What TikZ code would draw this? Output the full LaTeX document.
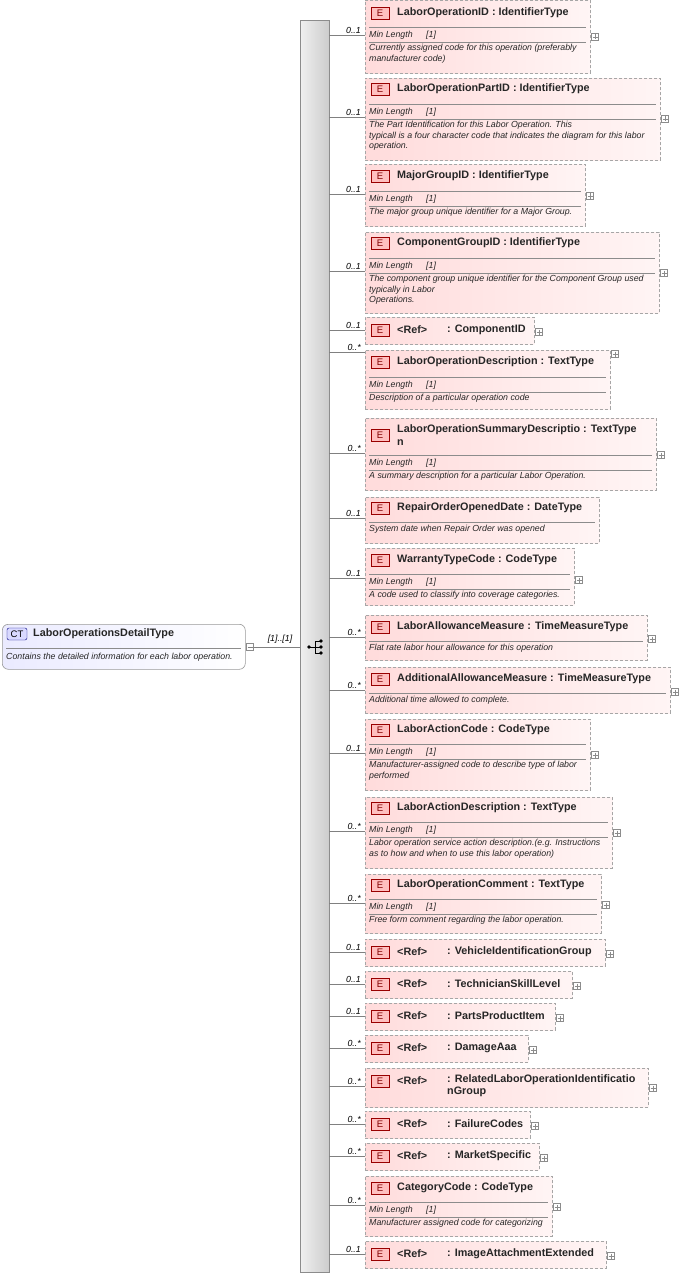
\documentclass[tikz,border=0pt]{standalone}
\usepackage{fontspec}
\setmainfont{Liberation Sans}
\begin{document}
\begin{tikzpicture}[x=1pt,y=-1pt,
 ebox/.style={draw=black!35,dashed,dash pattern=on 3pt off 2pt,left color=red!14,right color=red!4,anchor=north west,inner sep=0,line width=0.7pt},
 badge/.style={draw=red!60!black,fill=red!25,minimum width=18pt,minimum height=12pt,inner sep=0,font=\fontsize{9.5}{10}\selectfont,text=red!50!black},
 ttl/.style={anchor=west,inner sep=0,font=\bfseries\fontsize{10.8}{12.5}\selectfont,text=black!85,align=left},
 sm/.style={anchor=west,inner sep=0,font=\itshape\fontsize{8.8}{10}\selectfont,text=black!85},
 dsc/.style={anchor=north west,inner sep=0,font=\itshape\fontsize{8.8}{10.6}\selectfont,text=black!85,align=left},
 mul/.style={anchor=east,inner sep=0,font=\itshape\fontsize{8.8}{9}\selectfont},
 plus/.style={draw=black!45,fill=white,minimum size=7pt,inner sep=0},
 conn/.style={draw=black!50,line width=0.6pt},
 sepl/.style={draw=black!45,line width=0.5pt}]
\useasboundingbox (0,0) rectangle (679,1276);
% sequence bar
\node[draw=black!45,left color=black!6,right color=black!20,minimum width=29pt,minimum height=1252pt,anchor=north west,inner sep=0] (bar) at (300,20) {};
% sequence symbol
\node[inner sep=0] (seq) at (316,647) {};
\fill (309,647) circle (1.8);
\draw[line width=0.7pt] (309,647)--(315,647) (315,641)--(315,653) (315,641)--(321,641) (315,647)--(321,647) (315,653)--(321,653);
\fill (321,641) circle (1.8) (321,647) circle (1.8) (321,653) circle (1.8);
% CT box
\node[draw=black!40,rounded corners=6pt,left color=blue!8,right color=white,minimum width=243pt,minimum height=45pt,anchor=north west,inner sep=0,line width=0.6pt] (ct) at (2,624) {};
\node[draw=blue!50!black,fill=blue!15,rounded corners=2pt,minimum width=20pt,minimum height=12pt,inner sep=0,font=\fontsize{9.5}{10}\selectfont] (ctb) at (17,634) {CT};
\node[ttl] (ctt) at (33,634) {LaborOperationsDetailType};
\draw[sepl] (6,648)--(241,648);
\node[sm] (ctd) at (6,657) {Contains the detailed information for each labor operation.};
\node[plus] (minus) at (250,647) {};
\draw[black!50] (247.5,647)--(252.5,647);
\draw[conn] (minus.east)--(bar.west|-minus.east);
\node[mul,anchor=south] (ctm) at (280,644) {[1]..[1]};
% element macro
\newcommand\elem[7]{%
 \node[ebox,minimum width=#3pt-365pt,minimum height=#4pt-#2pt] (b#1) at (365,#2) {};
 \coordinate (c#1) at (329,#5);
 \draw[conn] (c#1)--(365,#5);
 \node[mul,anchor=south east] (m#1) at (361,#5-1) {#6};
 \ifnum#7=1 \node[plus] (p#1) at (#3+5,#5+2) {}; \draw[black!45] (#3+2.5,#5+2)--(#3+7.5,#5+2) (#3+5,#5-0.5)--(#3+5,#5+4.5);\fi}
\newcommand\etitle[3]{\node[badge] (e#1) at (380,#2) {E}; \node[ttl] (t#1) at (397,#2) {#3};}
\newcommand\rtitle[3]{\node[badge] (e#1) at (380,#2) {E}; \node[ttl] (r#1) at (397,#2) {<Ref>}; \node[ttl] (t#1) at (447,#2) {: #3};}
\newcommand\minl[3]{\draw[sepl] (369,#2-8)--(#3-4,#2-8); \node[sm] (ml#1) at (369,#2) {Min Length}; \node[sm] (mv#1) at (426,#2) {[1]}; \draw[sepl] (369,#2+7)--(#3-4,#2+7);}
\newcommand\desc[3]{\node[dsc] (d#1) at (369,#2) {#3};}
\elem{1}{0}{590}{73}{35}{0..1}{1}\etitle{1}{13}{LaborOperationID : IdentifierType}\minl{1}{35}{590}\desc{1}{44}{Currently assigned code for this operation (preferably\\manufacturer code)}
\elem{2}{78}{660}{160}{117}{0..1}{1}\etitle{2}{89}{LaborOperationPartID : IdentifierType}\minl{2}{112}{660}\desc{2}{121}{The Part Identification for this Labor Operation. This\\typicall is a four character code that indicates the diagram for this labor\\operation.}
\elem{3}{164}{585}{226}{194}{0..1}{1}\etitle{3}{176}{MajorGroupID : IdentifierType}\minl{3}{199}{585}\desc{3}{208}{The major group unique identifier for a Major Group.}
\elem{4}{232}{659}{313}{271}{0..1}{1}\etitle{4}{243}{ComponentGroupID : IdentifierType}\minl{4}{266}{659}\desc{4}{275}{The component group unique identifier for the Component Group used\\typically in Labor\\Operations.}
\elem{5}{317}{534}{344}{330}{0..1}{1}\rtitle{5}{330}{ComponentID}
\elem{6}{350}{610}{409}{352}{0..*}{1}\etitle{6}{362}{LaborOperationDescription : TextType}\minl{6}{385}{610}\desc{6}{394}{Description of a particular operation code}
\elem{7}{418}{656}{490}{453}{0..*}{1}\etitle{7}{435}{LaborOperationSummaryDescriptio : TextType\\n}\minl{7}{463}{656}\desc{7}{472}{A summary description for a particular Labor Operation.}
\elem{8}{497}{599}{543}{518}{0..1}{0}\etitle{8}{508}{RepairOrderOpenedDate : DateType}\draw[sepl] (369,522)--(595,522);\desc{8}{525}{System date when Repair Order was opened}
\elem{9}{548}{574}{605}{578}{0..1}{1}\etitle{9}{560}{WarrantyTypeCode : CodeType}\minl{9}{582}{574}\desc{9}{591}{A code used to classify into coverage categories.}
\elem{10}{615}{647}{660}{637}{0..*}{1}\etitle{10}{627}{LaborAllowanceMeasure : TimeMeasureType}\draw[sepl] (369,641)--(643,641);\desc{10}{644}{Flat rate labor hour allowance for this operation}
\elem{11}{667}{670}{713}{690}{0..*}{1}\etitle{11}{679}{AdditionalAllowanceMeasure : TimeMeasureType}\draw[sepl] (369,693)--(666,693);\desc{11}{696}{Additional time allowed to complete.}
\elem{12}{719}{590}{790}{753}{0..1}{1}\etitle{12}{730}{LaborActionCode : CodeType}\minl{12}{752}{590}\desc{12}{761}{Manufacturer-assigned code to describe type of labor\\performed}
\elem{13}{797}{612}{868}{831}{0..*}{1}\etitle{13}{808}{LaborActionDescription : TextType}\minl{13}{830}{612}\desc{13}{839}{Labor operation service action description.(e.g. Instructions\\as to how and when to use this labor operation)}
\elem{14}{874}{601}{933}{903}{0..*}{1}\etitle{14}{885}{LaborOperationComment : TextType}\minl{14}{907}{601}\desc{14}{916}{Free form comment regarding the labor operation.}
\elem{15}{939}{605}{966}{952}{0..1}{1}\rtitle{15}{952}{VehicleIdentificationGroup}
\elem{16}{971}{572}{998}{984}{0..1}{1}\rtitle{16}{984}{TechnicianSkillLevel}
\elem{17}{1003}{555}{1030}{1016}{0..1}{1}\rtitle{17}{1016}{PartsProductItem}
\elem{18}{1035}{528}{1062}{1048}{0..*}{1}\rtitle{18}{1048}{DamageAaa}
\elem{19}{1068}{648}{1107}{1086}{0..*}{1}\node[badge] (e19) at (380,1081) {E}; \node[ttl] (r19) at (397,1081) {<Ref>}; \node[ttl,anchor=north west] (t19) at (447,1074) {: RelatedLaborOperationIdentificatio\\nGroup};
\elem{20}{1111}{530}{1138}{1124}{0..*}{1}\rtitle{20}{1124}{FailureCodes}
\elem{21}{1143}{539}{1170}{1156}{0..*}{1}\rtitle{21}{1156}{MarketSpecific}
\elem{22}{1176}{552}{1236}{1205}{0..*}{1}\etitle{22}{1188}{CategoryCode : CodeType}\minl{22}{1210}{552}\desc{22}{1219}{Manufacturer assigned code for categorizing}
\elem{23}{1241}{606}{1268}{1254}{0..1}{1}\rtitle{23}{1254}{ImageAttachmentExtended}
\end{tikzpicture}
\end{document}
